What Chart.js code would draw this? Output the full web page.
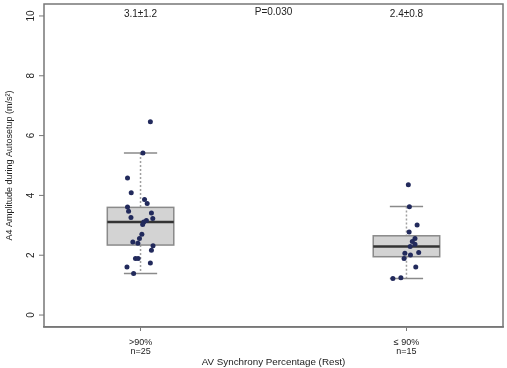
<!DOCTYPE html>
<html>
<head>
<meta charset="utf-8">
<script src="https://cdn.jsdelivr.net/npm/chart.js@4.4.1/dist/chart.umd.min.js"></script>
<style>
  html, body { margin: 0; padding: 0; background: #fff; }
  #wrap { width: 507px; height: 368px; }
</style>
</head>
<body>
<div id="wrap"><canvas id="boxChart" width="507" height="368"></canvas></div>
<script>
// groups
let groupLabels = [['>90%', 'n=25'], ['\u2264 90%', 'n=15']];
let groupPos = [1, 2];
let topNotes = ['3.1\u00b11.2', '2.4\u00b10.8'];
let pValue = 'P=0.030';

// box stats
let whiskerLow = [1.39, 1.22];
let q1 = [2.34, 1.95];
let median = [3.11, 2.29];
let q3 = [3.60, 2.65];
let whiskerHigh = [5.42, 3.63];

// raw points (jitter offset, value)
let g1Jitter = [0.037, 0.009, -0.049, -0.035, 0.015, 0.025, -0.049, -0.045, 0.041, -0.036, 0.046, 0.022, 0.012, 0.008, 0.005, -0.004, -0.029, -0.010, 0.047, 0.041, -0.019, -0.009, 0.037, -0.051, -0.026];
let g1Values = [6.46, 5.42, 4.58, 4.09, 3.86, 3.73, 3.61, 3.47, 3.41, 3.26, 3.23, 3.16, 3.11, 3.03, 2.70, 2.56, 2.44, 2.40, 2.32, 2.17, 1.89, 1.89, 1.74, 1.61, 1.39];
let g2Jitter = [0.007, 0.011, 0.040, 0.010, 0.032, 0.022, 0.032, 0.014, 0.046, -0.006, 0.015, -0.009, 0.035, -0.021, -0.051];
let g2Values = [4.36, 3.62, 3.01, 2.78, 2.56, 2.46, 2.37, 2.29, 2.09, 2.07, 2.01, 1.89, 1.61, 1.25, 1.22];

let yTicks = [0, 2, 4, 6, 8, 10];

function toPoints(center, jitter, values) {
    return values.map(function (v, i) { return { x: center + jitter[i], y: v }; });
}

let fontName = '"Liberation Sans", Arial, sans-serif';
let axisGray = '#777777';

// boxes, frame, rotated y labels, top notes
const boxPlugin = {
    id: 'boxPlugin',
    beforeDatasetsDraw: function (chart) {
        let ctx = chart.ctx;
        let xs = chart.scales.x;
        let ys = chart.scales.y;
        let area = chart.chartArea;
        ctx.save();

        for (let i = 0; i < groupPos.length; i++) {
            let cx = xs.getPixelForValue(groupPos[i]);
            let half = xs.getPixelForValue(groupPos[i] + 0.125) - cx;
            let cap = xs.getPixelForValue(groupPos[i] + 0.0625) - cx;
            let yLo = ys.getPixelForValue(whiskerLow[i]);
            let yQ1 = ys.getPixelForValue(q1[i]);
            let yMed = ys.getPixelForValue(median[i]);
            let yQ3 = ys.getPixelForValue(q3[i]);
            let yHi = ys.getPixelForValue(whiskerHigh[i]);

            // whiskers (dotted)
            ctx.strokeStyle = '#a0a0a0';
            ctx.lineWidth = 1.5;
            ctx.setLineDash([2, 2]);
            ctx.beginPath();
            ctx.moveTo(cx, yHi); ctx.lineTo(cx, yQ3);
            ctx.moveTo(cx, yQ1); ctx.lineTo(cx, yLo);
            ctx.stroke();
            ctx.setLineDash([]);

            // caps
            ctx.strokeStyle = '#8a8a8a';
            ctx.lineWidth = 1.5;
            ctx.beginPath();
            ctx.moveTo(cx - cap, yHi); ctx.lineTo(cx + cap, yHi);
            ctx.moveTo(cx - cap, yLo); ctx.lineTo(cx + cap, yLo);
            ctx.stroke();

            // box
            ctx.fillStyle = '#d3d3d3';
            ctx.fillRect(cx - half, yQ3, half * 2, yQ1 - yQ3);
            ctx.strokeStyle = '#8a8a8a';
            ctx.lineWidth = 1.5;
            ctx.strokeRect(cx - half, yQ3, half * 2, yQ1 - yQ3);

            // median
            ctx.strokeStyle = '#333333';
            ctx.lineWidth = 2.5;
            ctx.beginPath();
            ctx.moveTo(cx - half, yMed); ctx.lineTo(cx + half, yMed);
            ctx.stroke();

            // text above
            ctx.fillStyle = '#222';
            ctx.font = '10px ' + fontName;
            ctx.textAlign = 'center';
            ctx.textBaseline = 'middle';
            ctx.fillText(topNotes[i], cx, 14);
        }
        ctx.fillText(pValue, (xs.getPixelForValue(1) + xs.getPixelForValue(2)) / 2, 12);

        // frame
        ctx.strokeStyle = axisGray;
        ctx.lineWidth = 1.5;
        ctx.strokeRect(area.left, area.top, area.right - area.left, area.bottom - area.top);

        // y ticks + rotated labels
        ctx.lineWidth = 1;
        ctx.strokeStyle = axisGray;
        ctx.fillStyle = '#222';
        ctx.font = '10px ' + fontName;
        for (let t of yTicks) {
            let py = ys.getPixelForValue(t);
            ctx.beginPath();
            ctx.moveTo(area.left - 5, py); ctx.lineTo(area.left, py);
            ctx.stroke();
            ctx.save();
            ctx.translate(area.left - 13, py);
            ctx.rotate(-Math.PI / 2);
            ctx.textAlign = 'center';
            ctx.textBaseline = 'middle';
            ctx.fillText(String(t), 0, 0);
            ctx.restore();
        }
        ctx.restore();
    }
};

new Chart(document.getElementById('boxChart'), {
    type: 'scatter',
    data: {
        datasets: [
            {
                label: '>90%',
                data: toPoints(groupPos[0], g1Jitter, g1Values),
                backgroundColor: '#222a5c',
                borderColor: '#222a5c',
                pointRadius: 2.5,
                borderWidth: 0
            },
            {
                label: '<=90%',
                data: toPoints(groupPos[1], g2Jitter, g2Values),
                backgroundColor: '#222a5c',
                borderColor: '#222a5c',
                pointRadius: 2.5,
                borderWidth: 0
            }
        ]
    },
    options: {
        responsive: false,
        animation: false,
        layout: { padding: { top: 1, right: 2, left: 0, bottom: 0 } },
        plugins: {
            legend: { display: false },
            tooltip: { enabled: false }
        },
        scales: {
            x: {
                type: 'linear',
                min: 0.637,
                max: 2.363,
                afterBuildTicks: function (scale) {
                    scale.ticks = groupPos.map(function (v) { return { value: v }; });
                },
                afterFit: function (scale) { scale.height = 41; },
                grid: { drawOnChartArea: false, tickLength: 4, color: axisGray },
                border: { color: axisGray, width: 1.5 },
                ticks: {
                    color: '#222',
                    font: { size: 9, family: fontName, lineHeight: 1.0 },
                    padding: 7,
                    maxRotation: 0,
                    callback: function (value) {
                        let idx = groupPos.indexOf(value);
                        return idx >= 0 ? groupLabels[idx] : '';
                    }
                },
                title: {
                    display: true,
                    text: 'AV Synchrony Percentage (Rest)',
                    color: '#222',
                    font: { size: 9.8, family: fontName },
                    padding: { top: 0, bottom: 0 }
                }
            },
            y: {
                min: -0.4,
                max: 10.4,
                afterBuildTicks: function (scale) {
                    scale.ticks = yTicks.map(function (v) { return { value: v }; });
                },
                afterFit: function (scale) { scale.width = 44; },
                grid: { display: false },
                border: { display: false },
                ticks: { display: false },
                title: {
                    display: true,
                    text: 'A4 Amplitude during Autosetup (m/s\u00b2)',
                    color: '#222',
                    font: { size: 9, family: fontName },
                    padding: { top: 4, bottom: 0 }
                }
            }
        }
    },
    plugins: [boxPlugin]
});
</script>
</body>
</html>
